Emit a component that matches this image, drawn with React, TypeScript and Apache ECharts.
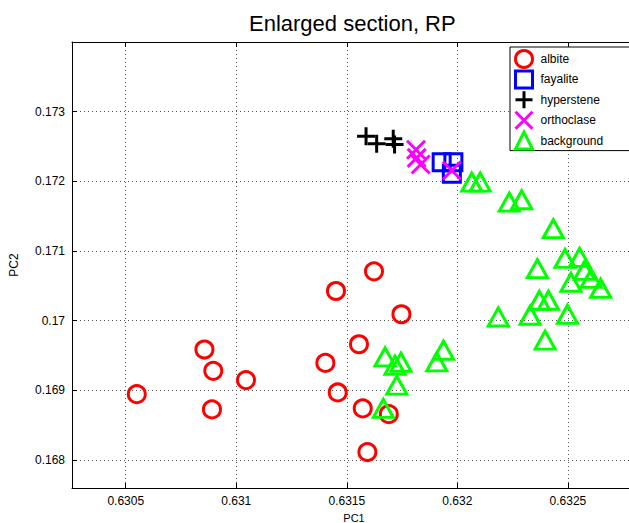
import React, { useEffect, useRef } from "react";
import * as echarts from "echarts";

const seriesNames = ["albite", "fayalite", "hyperstene", "orthoclase", "background"];
const seriesColors = ["#ff0000", "#0000ff", "#000000", "#ff00ff", "#00ff00"];

const albiteX = [0.63055, 0.630856, 0.630896, 0.63089, 0.631044, 0.631451, 0.631623, 0.631747, 0.631555, 0.631403, 0.631459, 0.631572, 0.63169, 0.631593];
const albiteY = [0.168947, 0.169587, 0.169281, 0.168728, 0.169148, 0.170427, 0.170709, 0.170093, 0.169663, 0.169395, 0.168971, 0.168742, 0.16866, 0.168116];

const fayaliteX = [0.631929, 0.631982, 0.631975];
const fayaliteY = [0.172275, 0.172275, 0.172109];

const hypersteneX = [0.631587, 0.631635, 0.63171, 0.631716];
const hypersteneY = [0.172648, 0.172539, 0.17261, 0.172529];

const orthoclaseX = [0.631813, 0.631816, 0.631834, 0.631975];
const orthoclaseY = [0.172453, 0.172338, 0.172242, 0.172156];

const backgroundX = [0.632065, 0.632103, 0.632235, 0.632291, 0.632434, 0.632362, 0.632487, 0.632553, 0.632575, 0.632514, 0.632605, 0.632648, 0.632371, 0.632412, 0.632185, 0.632329, 0.632498, 0.632397, 0.631673, 0.631718, 0.631745, 0.631726, 0.631665, 0.631937, 0.631907];
const backgroundY = [0.171989, 0.171989, 0.171702, 0.171736, 0.171321, 0.170748, 0.170895, 0.17091, 0.170723, 0.170552, 0.170609, 0.170466, 0.170294, 0.170294, 0.170054, 0.170079, 0.170093, 0.169721, 0.169481, 0.169362, 0.169405, 0.169076, 0.168742, 0.169577, 0.16941];

const xTickValues = [0.6305, 0.631, 0.6315, 0.632, 0.6325];
const xTickLabels = ["0.6305", "0.631", "0.6315", "0.632", "0.6325"];
const yTickValues = [0.168, 0.169, 0.17, 0.171, 0.172, 0.173];
const yTickLabels = ["0.168", "0.169", "0.17", "0.171", "0.172", "0.173"];

const xRange = [0.630257, 0.632808];
const yRange = [0.1676, 0.174];

const titleText = "Enlarged section, RP";
const xName = "PC1";
const yName = "PC2";

const FONT = "'Liberation Sans', Arial, Helvetica, sans-serif";

function zip(xs: number[], ys: number[]) {
  return xs.map((x, i) => [x, ys[i]]);
}

function tickFormatter(values: number[], labels: string[], step: number) {
  return (v: number) => {
    for (let i = 0; i < values.length; i++) {
      if (Math.abs(v - values[i]) < step * 1e-3) return labels[i];
    }
    return "";
  };
}

const plusPath = "path://M0,5L10,5M5,0L5,10";
const crossPath = "path://M0,0L10,10M10,0L0,10";

export default function App() {
  const ref = useRef<HTMLDivElement>(null);

  useEffect(() => {
    document.body.style.margin = "0";
    if (!ref.current) return;
    const chart = echarts.init(ref.current, null, { renderer: "svg" });

    const seriesData = [
      zip(albiteX, albiteY),
      zip(fayaliteX, fayaliteY),
      zip(hypersteneX, hypersteneY),
      zip(orthoclaseX, orthoclaseY),
      zip(backgroundX, backgroundY),
    ];
    const symbols: any[] = ["circle", "rect", plusPath, crossPath, "triangle"];
    const sizes: any[] = [17, 17, 18, 18, [20, 18]];

    const series = seriesNames.map((name, i) => ({
      name,
      type: "scatter",
      data: seriesData[i],
      symbol: symbols[i],
      symbolSize: sizes[i],
      itemStyle: {
        color: "rgba(0,0,0,0)",
        borderColor: seriesColors[i],
        borderWidth: 3,
        opacity: 1,
      },
      emphasis: { disabled: true },
      clip: true,
    }));

    const axisLineStyle = { color: "#000", width: 1 };

    chart.setOption({
      animation: false,
      backgroundColor: "#ffffff",
      title: {
        text: titleText,
        left: 249,
        top: 12,
        padding: 0,
        textStyle: { fontFamily: FONT, fontSize: 22, fontWeight: "normal", color: "#000" },
      },
      legend: {
        orient: "vertical",
        left: 510,
        top: 47,
        padding: [2, 40, 0, 4],
        itemWidth: 17,
        itemHeight: 17,
        itemGap: 0.4,
        backgroundColor: "#ffffff",
        borderColor: "#000",
        borderWidth: 1,
        borderRadius: 0,
        selectedMode: false,
        data: seriesNames,
        itemStyle: { borderWidth: 3 },
        textStyle: { fontFamily: FONT, fontSize: 12, color: "#000", padding: [0, 0, 0, 3] },
      },
      grid: {
        left: 72,
        top: 42,
        width: 564,
        height: 446,
        containLabel: false,
        outerBoundsMode: "none",
      },
      xAxis: [
        {
          type: "value",
          min: xRange[0],
          max: xRange[1],
          splitNumber: 5,
          name: xName,
          nameLocation: "middle",
          nameGap: 20,
          nameTextStyle: { fontFamily: FONT, fontSize: 11, color: "#000", lineHeight: 12 },
          axisLine: { show: true, lineStyle: axisLineStyle },
          axisTick: { show: true, inside: true, length: 5, lineStyle: axisLineStyle },
          axisLabel: {
            fontFamily: FONT,
            fontSize: 12,
            color: "#000",
            margin: 7,
            formatter: tickFormatter(xTickValues, xTickLabels, 0.0005),
          },
          splitLine: { show: true, lineStyle: { color: "#555", type: [1, 3], width: 1 } },
        },
        {
          type: "value",
          position: "top",
          min: xRange[0],
          max: xRange[1],
          splitNumber: 5,
          axisLine: { show: true, lineStyle: axisLineStyle },
          axisTick: { show: true, inside: true, length: 5, lineStyle: axisLineStyle },
          axisLabel: { show: false },
          splitLine: { show: false },
        },
      ],
      yAxis: [
        {
          type: "value",
          min: yRange[0],
          max: yRange[1],
          splitNumber: 6,
          name: yName,
          nameLocation: "middle",
          nameGap: 52,
          nameTextStyle: { fontFamily: FONT, fontSize: 12, color: "#000" },
          axisLine: { show: true, lineStyle: axisLineStyle },
          axisTick: { show: true, inside: true, length: 5, lineStyle: axisLineStyle },
          axisLabel: {
            fontFamily: FONT,
            fontSize: 12,
            color: "#000",
            margin: 7,
            formatter: tickFormatter(yTickValues, yTickLabels, 0.001),
          },
          splitLine: { show: true, lineStyle: { color: "#555", type: [1, 3], width: 1 } },
        },
        {
          type: "value",
          position: "right",
          min: yRange[0],
          max: yRange[1],
          splitNumber: 6,
          axisLine: { show: true, lineStyle: axisLineStyle },
          axisTick: { show: true, inside: true, length: 5, lineStyle: axisLineStyle },
          axisLabel: { show: false },
          splitLine: { show: false },
        },
      ],
      series,
    });

    return () => {
      chart.dispose();
    };
  }, []);

  return (
    <div
      ref={ref}
      style={{ position: "absolute", left: 0, top: 0, width: 629, height: 523 }}
    />
  );
}
